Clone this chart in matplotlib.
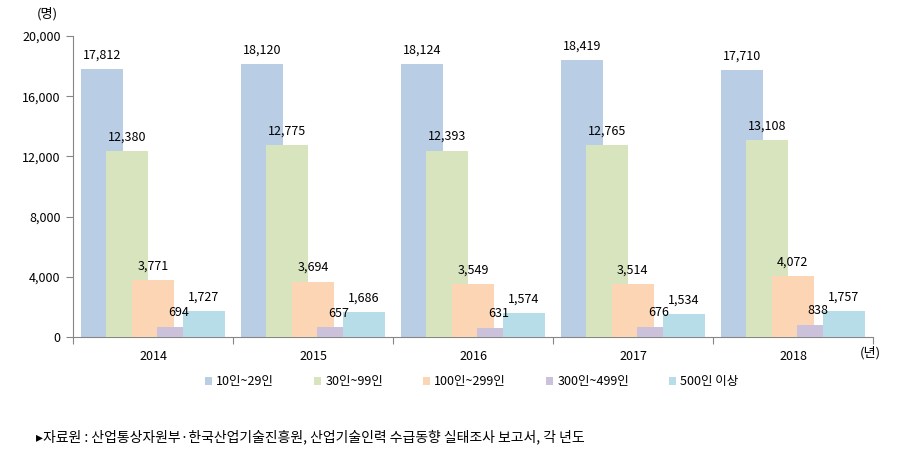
import matplotlib
matplotlib.use("Agg")
import matplotlib.pyplot as plt
from matplotlib.patches import Patch

plt.rcParams['font.family'] = ['Noto Sans CJK KR', 'DejaVu Sans']

# data
years = ["2014", "2015", "2016", "2017", "2018"]
series_names = ["10인~29인", "30인~99인", "100인~299인", "300인~499인", "500인 이상"]
s_10_29 = [17812, 18120, 18124, 18419, 17710]
s_30_99 = [12380, 12775, 12393, 12765, 13108]
s_100_299 = [3771, 3694, 3549, 3514, 4072]
s_300_499 = [694, 657, 631, 676, 838]
s_500 = [1727, 1686, 1574, 1534, 1757]
y_ticks = [0, 4000, 8000, 12000, 16000, 20000]

series = [s_10_29, s_30_99, s_100_299, s_300_499, s_500]
colors = ["#B9CDE5", "#D7E4BD", "#FCD5B5", "#CCC1DA", "#B7DEE8"]

fig = plt.figure(figsize=(9.07, 4.67), dpi=100)
ax = fig.add_axes([0.0805, 0.278, 0.882, 0.645])

width = 0.2625
step = 0.159
for k, vals in enumerate(series):
    for i, v in enumerate(vals):
        left = i - 0.5 + 0.05 + k * step
        ax.bar(left, v, width=width, align='edge', color=colors[k], zorder=2 + k)
        ax.text(left + width / 2, v + 500, f"{v:,}", ha='center', va='bottom',
                fontsize=9, zorder=10)

ax.set_xlim(-0.5, len(years) - 0.5)
ax.set_ylim(0, 20000)
ax.set_yticks(y_ticks)
ax.set_yticklabels([f"{t:,}" for t in y_ticks], fontsize=9)

# category ticks at boundaries, labels at centers
ax.set_xticks([i - 0.5 for i in range(len(years) + 1)])
ax.set_xticklabels([])
ax.set_xticks(range(len(years)), minor=True)
ax.set_xticklabels(years, minor=True, fontsize=9)
ax.tick_params(axis='x', which='minor', length=0, pad=9)
ax.tick_params(axis='x', which='major', length=5, color='#868686')
ax.tick_params(axis='y', length=5, color='#868686', pad=4)

for s in ['top', 'right']:
    ax.spines[s].set_visible(False)
for s in ['left', 'bottom']:
    ax.spines[s].set_color('#868686')

fig.text(0.04, 0.97, "(명)", fontsize=9.5, ha='left', va='center')
fig.text(0.948, 0.245, "(년)", fontsize=9.5, ha='left', va='center')

handles = [Patch(facecolor=c) for c in colors]
fig.legend(handles, series_names, loc='center', bbox_to_anchor=(0.52, 0.183),
           ncol=5, frameon=False, fontsize=9, handlelength=0.6, handleheight=0.6,
           handletextpad=0.3, columnspacing=3.2)

fig.text(0.04, 0.065, "▸자료원 : 산업통상자원부·한국산업기술진흥원, 산업기술인력 수급동향 실태조사 보고서, 각 년도",
         fontsize=10, ha='left', va='center')

fig.savefig("out.png", dpi=100)
